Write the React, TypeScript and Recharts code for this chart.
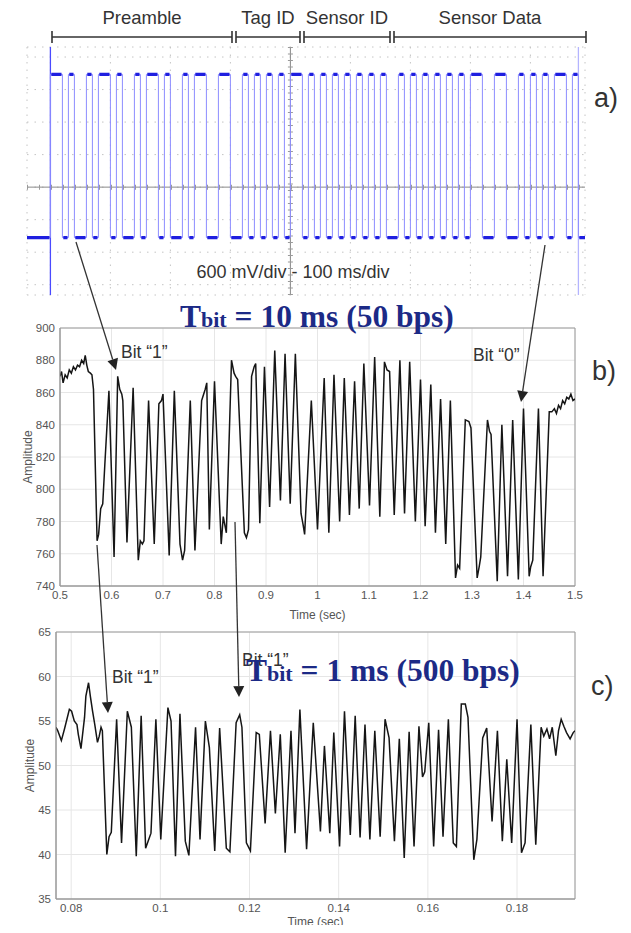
import {
  LineChart,
  Line,
  XAxis,
  YAxis,
  CartesianGrid,
  ReferenceLine,
  ReferenceArea,
} from "recharts";

const SANS = '"Liberation Sans", Arial, Helvetica, sans-serif';
const SERIF = '"Liberation Serif", "Times New Roman", serif';
const NAVY = "#1c2a86";

// ---- panel a: oscilloscope capture (10 ms per bit, 600 mV/div, 100 ms/div)
const scopeBits = [
  1, 1, 0, 1, 0, 0, 1, 0, 1, 1, 0, 1, 0, 0, 1, 0, 1, 1, 0, 1, 0, 0, 1, 0,
  1, 1, 0, 0, 1, 1, 0, 0, 1, 0, 1, 0, 1, 0, 1, 0,
  1, 1, 0, 1, 0, 1, 0,
  1, 0, 1, 0, 1, 0, 1, 0, 1, 0, 0, 1, 0, 1, 0, 1, 0, 1, 0, 1, 0, 1, 0,
  1, 1, 0, 0, 1, 1, 0, 0, 1, 0, 1, 0, 1, 0, 1, 1, 0, 1,
];
const BIT_MS = 10;
const HIGH_V = 2.08;
const LOW_V = -0.93;
const scopeTimeDomain = [-39, 891];
const scopeVoltDomain = [-1.99, 2.585];
const scopeTimeTicks = [0, 100, 200, 300, 400, 500, 600, 700, 800];
const scopeVoltTicks = [-1.8, -1.2, -0.6, 0, 0.6, 1.2, 1.8, 2.4];
const frameFields = [
  { label: "Preamble", from: 52, to: 232 },
  { label: "Tag ID", from: 236, to: 300 },
  { label: "Sensor ID", from: 304, to: 390 },
  { label: "Sensor Data", from: 394, to: 586 },
];

// ---- panel b: received signal at 50 bps  [time (s), amplitude]
const traceB: [number, number][] = [
  [0.5, 870], [0.503, 873], [0.506, 866], [0.51, 871], [0.514, 869], [0.518, 874],
  [0.522, 872], [0.526, 876], [0.53, 874], [0.534, 877], [0.538, 876], [0.542, 880],
  [0.546, 878], [0.549, 883], [0.552, 877], [0.555, 873], [0.559, 872], [0.562, 871],
  [0.565, 862], [0.572, 768], [0.575, 772], [0.579, 788], [0.583, 791], [0.587, 815],
  [0.595, 861], [0.605, 758], [0.612, 870], [0.616, 862], [0.62, 859], [0.622, 855],
  [0.63, 767], [0.642, 863], [0.652, 756], [0.656, 768], [0.66, 766], [0.663, 768],
  [0.672, 855], [0.683, 766], [0.692, 853], [0.697, 855], [0.7, 859], [0.712, 759],
  [0.722, 861], [0.733, 766], [0.738, 756], [0.742, 762], [0.753, 855], [0.762, 762],
  [0.775, 855], [0.778, 858], [0.782, 862], [0.785, 866], [0.79, 775], [0.8, 867],
  [0.813, 766], [0.817, 783], [0.823, 773], [0.833, 880], [0.838, 872], [0.841, 870],
  [0.845, 868], [0.858, 773], [0.862, 770], [0.866, 775], [0.872, 870], [0.877, 876],
  [0.88, 878], [0.888, 779], [0.897, 876], [0.907, 789], [0.917, 886], [0.928, 793],
  [0.937, 884], [0.947, 791], [0.957, 884], [0.968, 785], [0.972, 778], [0.975, 772],
  [0.988, 855], [1.0, 775], [1.013, 869], [1.022, 773], [1.032, 871], [1.043, 780],
  [1.052, 869], [1.062, 784], [1.072, 867], [1.081, 788], [1.09, 878], [1.101, 790],
  [1.111, 882], [1.121, 783], [1.13, 879], [1.135, 874], [1.14, 873], [1.149, 784],
  [1.16, 880], [1.169, 785], [1.179, 879], [1.19, 780], [1.2, 868], [1.209, 777],
  [1.22, 865], [1.229, 773], [1.239, 856], [1.249, 766], [1.258, 855], [1.268, 745],
  [1.272, 753], [1.276, 751], [1.287, 843], [1.294, 842], [1.298, 838], [1.31, 745],
  [1.314, 752], [1.317, 758], [1.33, 843], [1.334, 836], [1.337, 834], [1.349, 743],
  [1.358, 840], [1.369, 746], [1.379, 843], [1.39, 744], [1.4, 850], [1.411, 746],
  [1.414, 752], [1.418, 756], [1.429, 850], [1.438, 746], [1.45, 848], [1.455, 848],
  [1.46, 850], [1.464, 847], [1.468, 852], [1.472, 850], [1.476, 855], [1.48, 853],
  [1.484, 857], [1.488, 856], [1.492, 859], [1.496, 855], [1.5, 856],
];
const timeTicksB = [0.5, 0.6, 0.7, 0.8, 0.9, 1, 1.1, 1.2, 1.3, 1.4, 1.5];
const ampTicksB = [740, 760, 780, 800, 820, 840, 860, 880, 900];

// ---- panel c: received signal at 500 bps  [time (s), amplitude]
const traceC: [number, number][] = [
  [0.0766, 54.3], [0.077, 53.9], [0.0778, 52.8], [0.0785, 54.1], [0.0796, 56.3],
  [0.0801, 56.1], [0.0807, 55.0], [0.0813, 54.6], [0.0816, 53.5], [0.0822, 51.9],
  [0.083, 55.4], [0.0833, 57.8], [0.0839, 59.3], [0.0843, 57.8], [0.0848, 56.1],
  [0.0853, 54.6], [0.0859, 52.6], [0.0863, 53.3], [0.0867, 54.3], [0.087, 53.9],
  [0.088, 40.0], [0.0885, 42.0], [0.089, 42.5], [0.0902, 55.2], [0.0913, 41.3],
  [0.0926, 56.1], [0.0935, 54.3], [0.0946, 39.8], [0.0957, 55.6], [0.0967, 40.7],
  [0.0979, 42.4], [0.099, 55.2], [0.1001, 41.7], [0.1017, 56.5], [0.1024, 55.0],
  [0.1034, 39.8], [0.1044, 55.8], [0.1056, 41.5], [0.1064, 39.9], [0.1079, 54.3],
  [0.1089, 41.7], [0.1101, 55.0], [0.111, 52.0], [0.1122, 40.4], [0.1133, 54.2],
  [0.1148, 40.7], [0.1156, 40.3], [0.117, 54.8], [0.1178, 55.7], [0.1183, 54.3],
  [0.1193, 41.3], [0.1202, 40.4], [0.1215, 53.7], [0.1222, 53.5], [0.1235, 43.5],
  [0.1247, 53.9], [0.1258, 44.6], [0.1269, 53.5], [0.128, 40.2], [0.1293, 53.9],
  [0.1302, 42.4], [0.1313, 56.3], [0.1328, 40.6], [0.1343, 54.8], [0.1359, 42.6],
  [0.1368, 52.2], [0.138, 42.4], [0.1389, 53.7], [0.1402, 40.9], [0.1413, 56.1],
  [0.1426, 42.2], [0.1437, 55.6], [0.1448, 41.9], [0.1459, 54.6], [0.147, 41.7],
  [0.1481, 53.9], [0.1493, 42.0], [0.1504, 55.2], [0.1513, 53.1], [0.1525, 41.5],
  [0.1536, 53.0], [0.1547, 39.6], [0.1558, 53.8], [0.1569, 40.9], [0.158, 54.4],
  [0.1588, 48.7], [0.1593, 49.3], [0.1602, 54.8], [0.1613, 40.9], [0.1624, 54.0],
  [0.1634, 42.0], [0.1646, 55.2], [0.1657, 41.3], [0.1664, 40.9], [0.1675, 56.9],
  [0.1684, 56.9], [0.169, 55.4], [0.1703, 39.4], [0.171, 41.7], [0.1723, 53.1],
  [0.1732, 54.2], [0.1744, 43.7], [0.1756, 53.9], [0.1767, 41.5], [0.1777, 50.7],
  [0.1788, 41.3], [0.18, 55.2], [0.181, 40.2], [0.1818, 41.3], [0.1831, 54.6],
  [0.1842, 41.1], [0.1854, 54.3], [0.186, 53.3], [0.1867, 54.1], [0.1873, 53.0],
  [0.1879, 54.3], [0.1887, 51.1], [0.1893, 53.9], [0.1899, 55.2], [0.1905, 54.4],
  [0.1911, 53.7], [0.1919, 53.0], [0.1926, 53.7], [0.193, 53.9],
];
const timeTicksC = [0.08, 0.1, 0.12, 0.14, 0.16, 0.18];
const ampTicksC = [35, 40, 45, 50, 55, 60, 65];

// step trace: every bit holds its level until the next one
const frameEnd = scopeBits.length * BIT_MS;
const scopeStep = [
  { t: scopeTimeDomain[0], v: LOW_V },
  ...scopeBits.map((b, i) => ({ t: i * BIT_MS, v: b ? HIGH_V : LOW_V })),
  { t: frameEnd, v: LOW_V },
  { t: scopeTimeDomain[1], v: LOW_V },
];

// the dense (thick) part of each settled level, broken at every edge
const scopeLevels: { t: number; v: number | null }[] = [
  { t: scopeTimeDomain[0], v: LOW_V },
  { t: -1.5, v: LOW_V },
  { t: -1, v: null },
];
let runStart = 0;
for (let i = 1; i <= scopeBits.length; i++) {
  if (i === scopeBits.length || scopeBits[i] !== scopeBits[runStart]) {
    const v = scopeBits[runStart] ? HIGH_V : LOW_V;
    scopeLevels.push({ t: runStart * BIT_MS + 1.5, v });
    scopeLevels.push({ t: i * BIT_MS - 1.5, v });
    scopeLevels.push({ t: i * BIT_MS, v: null });
    runStart = i;
  }
}
scopeLevels.push({ t: frameEnd + 1.5, v: LOW_V }, { t: scopeTimeDomain[1], v: LOW_V });

const dataB = traceB.map(([t, a]) => ({ t, a }));
const dataC = traceC.map(([t, a]) => ({ t, a }));

const tickStyle = { fontSize: 11.5, fill: "#555", fontFamily: SANS };

function Arrow({ from, to }: { from: [number, number]; to: [number, number] }) {
  const [x1, y1] = from;
  const [x2, y2] = to;
  const len = Math.hypot(x2 - x1, y2 - y1);
  const ux = (x2 - x1) / len;
  const uy = (y2 - y1) / len;
  const hl = 11;
  const hw = 5.5;
  const bx = x2 - ux * hl;
  const by = y2 - uy * hl;
  return (
    <g>
      <line x1={x1} y1={y1} x2={bx} y2={by} stroke="#333" strokeWidth={1.3} />
      <polygon
        points={`${x2},${y2} ${bx - uy * hw},${by + ux * hw} ${bx + uy * hw},${by - ux * hw}`}
        fill="#222"
      />
    </g>
  );
}

function RateTitle({ x, y, rest }: { x: number; y: number; rest: string }) {
  return (
    <text x={x} y={y} fontFamily={SERIF} fontWeight="bold" fill={NAVY} fontSize={31.5}>
      T<tspan fontSize={22}>bit</tspan>
      {rest}
    </text>
  );
}

function ScopePanel() {
  return (
    <LineChart width={631} height={300} margin={{ top: 47, right: 46, bottom: 5, left: 27 }}>
      <XAxis
        type="number"
        dataKey="t"
        domain={scopeTimeDomain}
        ticks={scopeTimeTicks}
        allowDataOverflow
        hide
      />
      <YAxis type="number" domain={scopeVoltDomain} ticks={scopeVoltTicks} allowDataOverflow hide />
      <CartesianGrid stroke="#c4c4c4" strokeDasharray="1.5 6" />
      <ReferenceLine y={0} stroke="#8a8a8a" strokeWidth={1} />
      <ReferenceLine y={0} stroke="#9a9a9a" strokeWidth={5} strokeDasharray="1 11" />
      <ReferenceLine x={400} stroke="#8a8a8a" strokeWidth={1} />
      <ReferenceLine x={400} stroke="#9a9a9a" strokeWidth={5} strokeDasharray="1 5.5" />
      <ReferenceLine x={0} stroke="#4a4aff" strokeWidth={1.3} />
      <ReferenceLine x={frameEnd} stroke="#b4b4ff" strokeWidth={1.3} />
      <Line
        data={scopeStep}
        dataKey="v"
        type="stepAfter"
        stroke="#8c8cff"
        strokeWidth={1}
        dot={false}
        activeDot={false}
        isAnimationActive={false}
      />
      <Line
        data={scopeLevels}
        dataKey="v"
        type="linear"
        stroke="#1f1fe0"
        strokeWidth={3.2}
        connectNulls={false}
        dot={false}
        activeDot={false}
        isAnimationActive={false}
      />
    </LineChart>
  );
}

function SignalPanel({
  data,
  width,
  height,
  margin,
  yWidth,
  timeDomain,
  timeTicks,
  ampDomain,
  ampTicks,
  xTickMargin,
  xLabelOffset,
  yLabelDx,
}: {
  data: { t: number; a: number }[];
  width: number;
  height: number;
  margin: { top: number; right: number; bottom: number; left: number };
  yWidth: number;
  timeDomain: number[];
  timeTicks: number[];
  ampDomain: number[];
  ampTicks: number[];
  xTickMargin: number;
  xLabelOffset: number;
  yLabelDx: number;
}) {
  return (
    <LineChart width={width} height={height} data={data} margin={margin}>
      <CartesianGrid stroke="#e6e6e6" />
      <XAxis
        type="number"
        dataKey="t"
        domain={timeDomain}
        ticks={timeTicks}
        allowDataOverflow
        tickLine={false}
        tickSize={0}
        tickMargin={xTickMargin}
        axisLine={{ stroke: "#9a9a9a" }}
        tick={tickStyle}
        height={30}
        label={{
          value: "Time (sec)",
          position: "insideBottom",
          offset: xLabelOffset,
          style: { fontSize: 12, fill: "#555", fontFamily: SANS },
        }}
      />
      <YAxis
        type="number"
        domain={ampDomain}
        ticks={ampTicks}
        allowDataOverflow
        tickLine={false}
        tickSize={0}
        tickMargin={5}
        axisLine={{ stroke: "#9a9a9a" }}
        tick={tickStyle}
        width={yWidth}
        label={{
          value: "Amplitude",
          angle: -90,
          position: "center",
          dx: yLabelDx,
          style: { fontSize: 12, fill: "#555", fontFamily: SANS, textAnchor: "middle" },
        }}
      />
      <ReferenceArea
        x1={timeDomain[0]}
        x2={timeDomain[1]}
        y1={ampDomain[0]}
        y2={ampDomain[1]}
        fill="none"
        stroke="#9a9a9a"
        strokeWidth={1}
      />
      <Line
        dataKey="a"
        type="linear"
        stroke="#151515"
        strokeWidth={1.5}
        dot={false}
        activeDot={false}
        isAnimationActive={false}
      />
    </LineChart>
  );
}

export default function App() {
  return (
    <div
      style={{
        position: "relative",
        width: 631,
        height: 933,
        margin: -8,
        background: "#fff",
        overflow: "hidden",
        fontFamily: SANS,
      }}
    >
      <div style={{ position: "absolute", left: 0, top: 0 }}>
        <ScopePanel />
      </div>
      <div style={{ position: "absolute", left: 0, top: 300 }}>
        <SignalPanel
          data={dataB}
          width={631}
          height={330}
          margin={{ top: 28, right: 56, bottom: 14, left: 20 }}
          yWidth={40}
          timeDomain={[0.5, 1.5]}
          timeTicks={timeTicksB}
          ampDomain={[740, 900]}
          ampTicks={ampTicksB}
          xTickMargin={5}
          xLabelOffset={-3}
          yLabelDx={-12}
        />
      </div>
      <div style={{ position: "absolute", left: 0, top: 620 }}>
        <SignalPanel
          data={dataC}
          width={631}
          height={313}
          margin={{ top: 12, right: 56, bottom: 4, left: 16 }}
          yWidth={40}
          timeDomain={[0.0766, 0.193]}
          timeTicks={timeTicksC}
          ampDomain={[35, 65]}
          ampTicks={ampTicksC}
          xTickMargin={5}
          xLabelOffset={3}
          yLabelDx={-6}
        />
      </div>
      <svg
        width={631}
        height={933}
        style={{ position: "absolute", left: 0, top: 0, pointerEvents: "none" }}
      >
        {frameFields.map((f) => (
          <g key={f.label} stroke="#333" strokeWidth={1.6}>
            <line x1={f.from} y1={37} x2={f.to} y2={37} />
            <line x1={f.from} y1={31} x2={f.from} y2={43} />
            <line x1={f.to} y1={31} x2={f.to} y2={43} />
            <text
              x={(f.from + f.to) / 2}
              y={24}
              stroke="none"
              fill="#333"
              fontSize={18.5}
              textAnchor="middle"
              fontFamily={SANS}
            >
              {f.label}
            </text>
          </g>
        ))}
        <text x={293} y={278} fontSize={18} fill="#333" textAnchor="middle" fontFamily={SANS}>
          600 mV/div - 100 ms/div
        </text>
        <text x={594} y={107} fontSize={27} fill="#333" fontFamily={SANS}>
          a)
        </text>
        <text x={592} y={380} fontSize={27} fill="#333" fontFamily={SANS}>
          b)
        </text>
        <text x={591} y={695} fontSize={27} fill="#333" fontFamily={SANS}>
          c)
        </text>

        <text x={121} y={358} fontSize={17.5} fill="#333" fontFamily={SANS}>
          Bit “1”
        </text>
        <text x={473} y={361} fontSize={17.5} fill="#333" fontFamily={SANS}>
          Bit “0”
        </text>
        <text x={112} y={683} fontSize={17.5} fill="#333" fontFamily={SANS}>
          Bit “1”
        </text>
        <text x={242} y={666} fontSize={17.5} fill="#333" fontFamily={SANS}>
          Bit “1”
        </text>

        <Arrow from={[76, 242]} to={[116, 370]} />
        <Arrow from={[545, 245]} to={[521, 402]} />
        <Arrow from={[97, 545]} to={[108, 713]} />
        <Arrow from={[235, 522]} to={[239, 697]} />

        <RateTitle x={180} y={327} rest=" = 10 ms (50 bps)" />
        <RateTitle x={246} y={681} rest=" = 1 ms (500 bps)" />
      </svg>
    </div>
  );
}
